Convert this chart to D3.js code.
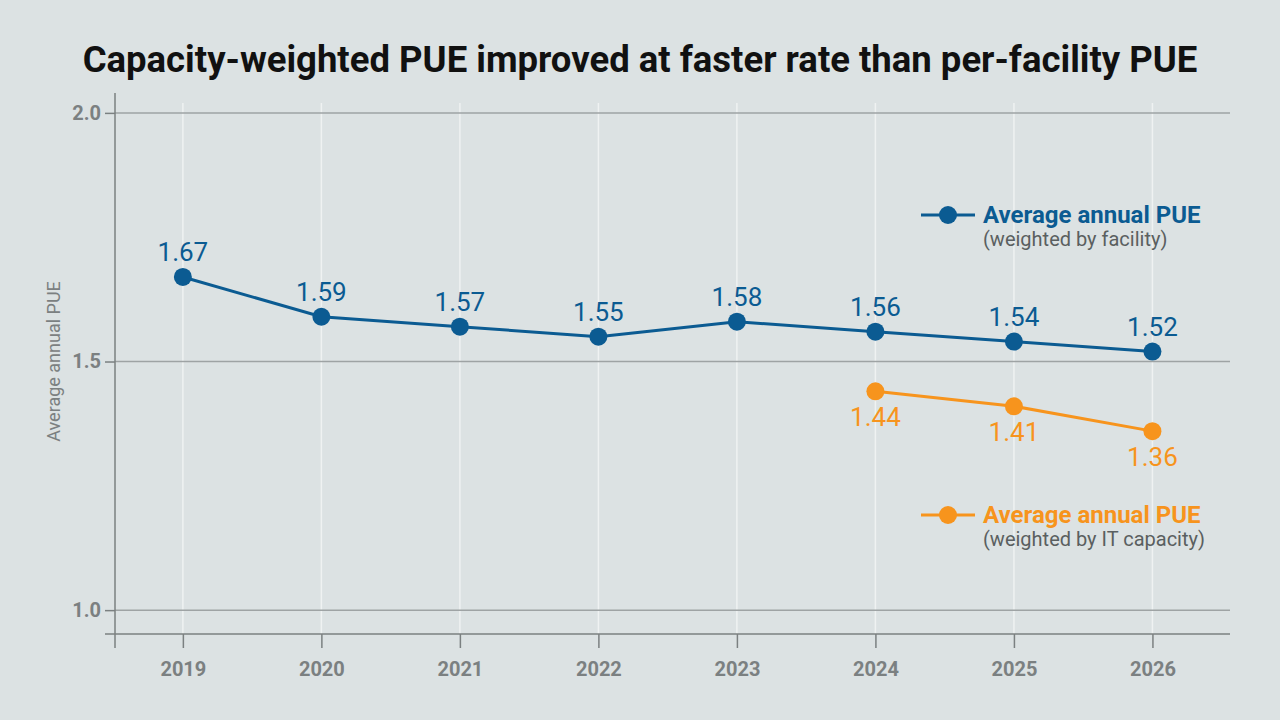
<!DOCTYPE html>
<html>
<head>
<meta charset="utf-8">
<script src="https://cdn.jsdelivr.net/npm/d3@7"></script>
<style>
  body { margin: 0; background: #dce2e3; }
  svg { display: block; font-family: Roboto, "Noto Sans", sans-serif; }
</style>
</head>
<body>
<svg id="chart"></svg>
<script>
const years = [2019, 2020, 2021, 2022, 2023, 2024, 2025, 2026];
const facilityPUE = [1.67, 1.59, 1.57, 1.55, 1.58, 1.56, 1.54, 1.52];
const capacityYears = [2024, 2025, 2026];
const capacityPUE = [1.44, 1.41, 1.36];
const yTicks = [1.0, 1.5, 2.0];

const W = 1280, H = 720;
const blue = '#0b5b92', orange = '#f7941d', grey = '#7b8081';

const svg = d3.select('#chart').attr('width', W).attr('height', H);
svg.append('rect').attr('width', W).attr('height', H).attr('fill', '#dce2e3');

const x = d3.scaleLinear().domain([2018.51, 2026.56]).range([115, 1230]);
const y = d3.scaleLinear().domain([0.952, 2.04]).range([634, 93]);

// title
svg.append('text')
    .attr('x', 640).attr('y', 72)
    .attr('text-anchor', 'middle')
    .attr('font-size', 36.5).attr('font-weight', 700)
    .attr('fill', '#111')
    .text('Capacity-weighted PUE improved at faster rate than per-facility PUE');

// vertical white grid
svg.append('g').selectAll('line')
    .data(years).join('line')
    .attr('x1', d => x(d)).attr('x2', d => x(d))
    .attr('y1', 103).attr('y2', 634)
    .attr('stroke', '#eff2f2').attr('stroke-width', 1.5);

// horizontal grid
svg.append('g').selectAll('line')
    .data(yTicks).join('line')
    .attr('x1', 115).attr('x2', 1230)
    .attr('y1', d => y(d)).attr('y2', d => y(d))
    .attr('stroke', '#9ea3a4').attr('stroke-width', 1.5);

// y axis
const yAxis = svg.append('g')
    .attr('transform', 'translate(115,0)')
    .call(d3.axisLeft(y).tickValues(yTicks).tickFormat(d3.format('.1f')).tickSize(10).tickPadding(4));
yAxis.select('.domain').remove();
yAxis.append('line').attr('x1', 0).attr('x2', 0).attr('y1', 93).attr('y2', 648)
    .attr('stroke', grey).attr('stroke-width', 1.5);
yAxis.selectAll('.tick line').attr('stroke', grey).attr('stroke-width', 1.5);
yAxis.selectAll('.tick text').attr('fill', grey).attr('font-size', 20).attr('font-weight', 700)
    .attr('font-family', 'Roboto, sans-serif');

// x axis
const xAxis = svg.append('g')
    .attr('transform', 'translate(0,634)')
    .call(d3.axisBottom(x).tickValues(years).tickFormat(d3.format('d')).tickSize(14).tickPadding(14));
xAxis.select('.domain').remove();
xAxis.append('line').attr('x1', 105).attr('x2', 1230).attr('y1', 0).attr('y2', 0)
    .attr('stroke', grey).attr('stroke-width', 1.5);
xAxis.selectAll('.tick line').attr('stroke', grey).attr('stroke-width', 1.5);
xAxis.selectAll('.tick text').attr('fill', grey).attr('font-size', 20).attr('font-weight', 700)
    .attr('font-family', 'Roboto, sans-serif');

// y axis title
svg.append('text')
    .attr('transform', `translate(60,${y(1.5)}) rotate(-90)`)
    .attr('text-anchor', 'middle')
    .attr('font-size', 18).attr('fill', grey)
    .text('Average annual PUE');

// series
const line = d3.line().x(d => x(d[0])).y(d => y(d[1]));

function drawSeries(xs, vs, color, above) {
    const pts = xs.map((d, i) => [d, vs[i]]);
    const g = svg.append('g');
    g.append('path').datum(pts).attr('d', line)
        .attr('fill', 'none').attr('stroke', color).attr('stroke-width', 3);
    g.selectAll('circle').data(pts).join('circle')
        .attr('cx', d => x(d[0])).attr('cy', d => y(d[1])).attr('r', 9)
        .attr('fill', color);
    g.selectAll('text').data(pts).join('text')
        .attr('x', d => x(d[0]))
        .attr('y', d => y(d[1]) + (above ? -16 : 35))
        .attr('text-anchor', 'middle')
        .attr('font-size', 26).attr('fill', color)
        .text(d => d3.format('.2f')(d[1]));
}
drawSeries(years, facilityPUE, blue, true);
drawSeries(capacityYears, capacityPUE, orange, false);

// legend
function legend(ly, color, sub) {
    const g = svg.append('g');
    g.append('line').attr('x1', 921).attr('x2', 975).attr('y1', ly).attr('y2', ly)
        .attr('stroke', color).attr('stroke-width', 3);
    g.append('circle').attr('cx', 948).attr('cy', ly).attr('r', 9).attr('fill', color);
    g.append('text').attr('x', 983).attr('y', ly + 8)
        .attr('font-size', 24).attr('font-weight', 700).attr('fill', color)
        .text('Average annual PUE');
    g.append('text').attr('x', 983).attr('y', ly + 31)
        .attr('font-size', 20).attr('fill', '#5a5f60')
        .text(sub);
}
legend(215, blue, '(weighted by facility)');
legend(515, orange, '(weighted by IT capacity)');
</script>
</body>
</html>
